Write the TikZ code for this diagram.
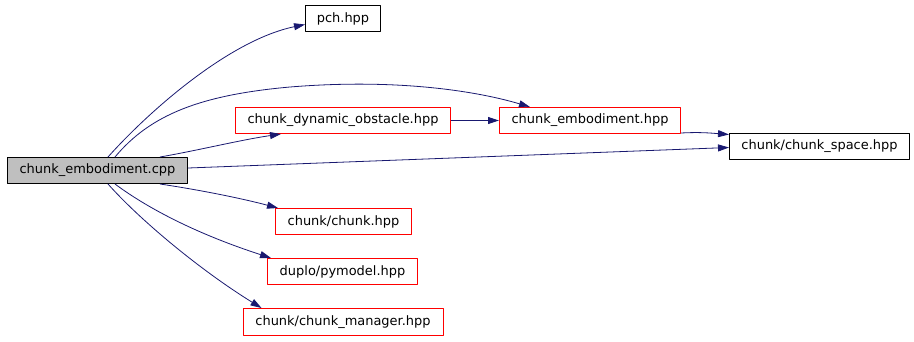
\documentclass[tikz,border=0pt]{standalone}
\usepackage{fontspec}
\setmainfont{DejaVu Sans}
\usetikzlibrary{arrows.meta}
\definecolor{edgeblue}{HTML}{191970}
\definecolor{rootgray}{HTML}{BFBFBF}
\definecolor{badred}{HTML}{FF0000}
\begin{document}
\begin{tikzpicture}[x=1bp,y=-1bp,line join=round,>={Triangle[length=11bp,width=7bp]}]
		\tikzset{file/.style={draw=black,line width=1bp,inner sep=0pt,minimum height=26bp,font=\fontsize{13}{15}\selectfont},
			bad/.style={file,draw=badred},
			dep/.style={->,draw=edgeblue,fill=none,line width=0.8bp}}
		\useasboundingbox (0,0) rectangle (914,341);
		% files
		\node[file,fill=rootgray,minimum width=180bp] (cpp) at (97.5,170.5) {chunk\_embodiment.cpp};
		\node[file,minimum width=75bp] (pch) at (343,18.5) {pch.hpp};
		\node[bad,minimum width=215bp] (dynobst) at (343,120.5) {chunk\_dynamic\_obstacle.hpp};
		\node[bad,minimum width=181bp] (emb) at (590,120.5) {chunk\_embodiment.hpp};
		\node[file,minimum width=180bp] (space) at (819.5,146.5) {chunk/chunk\_space.hpp};
		\node[bad,minimum width=136bp] (chunk) at (343.5,221.5) {chunk/chunk.hpp};
		\node[bad,minimum width=150bp] (pymodel) at (342.5,271.5) {duplo/pymodel.hpp};
		\node[bad,draw=badred,minimum width=200bp,minimum height=27bp] (manager) at (343,322) {chunk/chunk\_manager.hpp};
		% includes
		\draw[dep] ([xshift=101bp]cpp.north west) .. controls (150,110) and (230,40) .. ([yshift=-6bp]pch.west);
		\draw[dep] ([xshift=108bp]cpp.north west) .. controls (150,115) and (200,95) .. (290,87)
			.. controls (400,78) and (480,92) .. ([xshift=31bp]emb.north west);
		\draw[dep] ([xshift=153bp]cpp.north west) .. controls (200,150) and (240,140) .. ([xshift=46bp]dynobst.south west);
		\draw[dep] ([yshift=2.5bp]cpp.east) -- ([yshift=-1bp]space.west);
		\draw[dep] (dynobst) -- (emb);
		\draw[dep] ([yshift=1bp]emb.south east) .. controls (700,132) and (710,133) .. ([yshift=12bp]space.west);
		\draw[dep] ([xshift=153bp]cpp.south west) .. controls (200,190) and (240,198) .. ([xshift=3bp]chunk.north west);
		\draw[dep] ([xshift=108bp]cpp.south west) .. controls (150,210) and (200,235) .. ([xshift=4bp]pymodel.north west);
		\draw[dep] ([xshift=101bp]cpp.south west) .. controls (140,220) and (200,270) .. ([xshift=19bp]manager.north west);
\end{tikzpicture}
\end{document}
